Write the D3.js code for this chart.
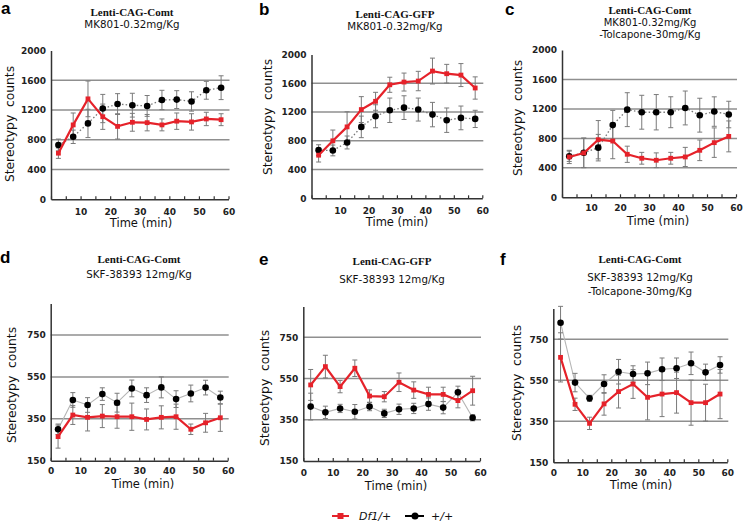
<!DOCTYPE html>
<html><head><meta charset="utf-8">
<script src="https://cdn.jsdelivr.net/npm/d3@7"></script>
<style>
html,body{margin:0;padding:0;background:#fff;}
svg{display:block;}
.tick text{font-family:"DejaVu Sans",Verdana,sans-serif;font-weight:bold;font-size:9px;fill:#222;}
</style></head>
<body>
<svg id="chart" width="744" height="522"></svg>
<script>
// ---- data ----
const time = [2.5, 7.5, 12.5, 17.5, 22.5, 27.5, 32.5, 37.5, 42.5, 47.5, 52.5, 57.5];
const seriesNames = ["Df1/+", "+/+"];

const aDf1 = [620, 1000, 1350, 1110, 980, 1035, 1030, 1000, 1050, 1040, 1080, 1070];
const aDf1Err = [70, 160, 240, 170, 170, 120, 110, 80, 110, 110, 90, 80];
const aWT = [730, 840, 1020, 1220, 1280, 1265, 1255, 1335, 1340, 1315, 1465, 1500];
const aWTErr = [80, 90, 190, 190, 140, 160, 140, 130, 120, 130, 120, 160];

const bDf1 = [600, 800, 994, 1235, 1350, 1580, 1618, 1632, 1771, 1734, 1715, 1535];
const bDf1Err = [95, 150, 210, 180, 125, 105, 125, 135, 180, 130, 160, 155];
const bWT = [670, 666, 777, 994, 1142, 1225, 1262, 1235, 1165, 1087, 1119, 1105];
const bWTErr = [75, 75, 90, 150, 160, 170, 165, 160, 170, 170, 165, 120];

const cDf1 = [548, 602, 782, 764, 584, 530, 503, 530, 548, 638, 742, 827];
const cDf1Err = [90, 200, 260, 240, 110, 80, 100, 80, 130, 140, 200, 210];
const cWT = [557, 605, 674, 980, 1190, 1155, 1155, 1155, 1213, 1115, 1164, 1124];
const cWTErr = [70, 200, 180, 200, 230, 230, 240, 210, 230, 230, 200, 180];

const dDf1 = [265, 368, 357, 363, 360, 360, 347, 357, 360, 300, 331, 355];
const dDf1Err = [55, 45, 65, 55, 55, 65, 50, 55, 60, 25, 45, 65];
const dWT = [300, 440, 416, 468, 427, 495, 463, 500, 444, 471, 499, 452];
const dWTErr = [25, 35, 35, 30, 45, 40, 35, 50, 40, 40, 35, 30];

const eDf1 = [519, 608, 511, 600, 465, 462, 532, 494, 473, 473, 443, 491];
const eDf1Err = [75, 55, 30, 40, 30, 25, 45, 40, 35, 35, 35, 70];
const eWT = [414, 386, 405, 389, 414, 381, 401, 405, 426, 409, 483, 360];
const eWTErr = [65, 30, 20, 35, 20, 20, 25, 25, 30, 30, 30, 15];

const fDf1 = [662, 433, 340, 435, 495, 532, 467, 483, 490, 441, 441, 483];
const fDf1Err = [120, 30, 30, 55, 80, 70, 110, 110, 100, 110, 90, 120];
const fWT = [831, 539, 462, 532, 592, 581, 584, 604, 609, 633, 589, 625];
const fWTErr = [80, 45, 15, 45, 60, 40, 55, 55, 50, 55, 40, 40];

const yTicksMK = [0, 400, 800, 1200, 1600, 2000];
const gridMK = [400, 800, 1200, 1600];
const yTicksSKF = [150, 350, 550, 750];
const gridSKF = [350, 550, 750];
const xTickMarks = [0, 5, 10, 15, 20, 25, 30, 35, 40, 45, 50, 55, 60];
const xLabelsTop = [10, 20, 30, 40, 50, 60];
const xLabelsBottom = [0, 10, 20, 30, 40, 50, 60];

const titlesA = ["Lenti-CAG-Comt", "MK801-0.32mg/Kg"];
const titlesB = ["Lenti-CAG-GFP", "MK801-0.32mg/Kg"];
const titlesC = ["Lenti-CAG-Comt", "MK801-0.32mg/Kg", "-Tolcapone-30mg/Kg"];
const titlesD = ["Lenti-CAG-Comt", "SKF-38393 12mg/Kg"];
const titlesE = ["Lenti-CAG-GFP", "SKF-38393 12mg/Kg"];
const titlesF = ["Lenti-CAG-Comt", "SKF-38393 12mg/Kg", "-Tolcapone-30mg/Kg"];
const yTitle = "Stereotypy\u00A0 counts";
const xTitle = "Time (min)";

// ---- layout ----
const RED = "#e5222a";
const panels = [
  {letter:"a", df1:aDf1, df1e:aDf1Err, wt:aWT, wte:aWTErr, titles:titlesA, yDomain:[0,2000], yTicks:yTicksMK, grid:gridMK, xLabels:xLabelsTop, dotted:true,
   x0:51, x1:228.5, yB:199.3, yT:50.5, tx:132, tb:[15.5,27.5], ts:10.3, lx:1, ly:14, ytx:10, yty:124, xtx:141, xtb:227, xlb:212},
  {letter:"b", df1:bDf1, df1e:bDf1Err, wt:bWT, wte:bWTErr, titles:titlesB, yDomain:[0,2000], yTicks:yTicksMK, grid:gridMK, xLabels:xLabelsTop, dotted:true,
   x0:311.5, x1:482.3, yB:198.3, yT:54.6, tx:395, tb:[17.5,29.5], ts:10.3, lx:259, ly:15, ytx:268, yty:117, xtx:397, xtb:226, xlb:211},
  {letter:"c", df1:cDf1, df1e:cDf1Err, wt:cWT, wte:cWTErr, titles:titlesC, yDomain:[0,2000], yTicks:yTicksMK, grid:gridMK, xLabels:xLabelsTop, dotted:true,
   x0:562, x1:736, yB:197.3, yT:50, tx:650, tb:[14,26,37.8], ts:10, lx:505, ly:15, ytx:518, yty:118, xtx:658, xtb:225, xlb:208},
  {letter:"d", df1:dDf1, df1e:dDf1Err, wt:dWT, wte:dWTErr, titles:titlesD, yDomain:[150,900], yTicks:yTicksSKF, grid:gridSKF, xLabels:xLabelsBottom, dotted:false,
   x0:50.7, x1:227.7, yB:460.7, yT:303.6, tx:139, tb:[263,278], ts:10.3, lx:0, ly:262.5, ytx:11.7, yty:385, xtx:143, xtb:488, xlb:471.5},
  {letter:"e", df1:eDf1, df1e:eDf1Err, wt:eWT, wte:eWTErr, titles:titlesE, yDomain:[150,900], yTicks:yTicksSKF, grid:gridSKF, xLabels:xLabelsBottom, dotted:false,
   x0:303.3, x1:480, yB:461, yT:306.4, tx:392, tb:[264.5,282.5], ts:10.3, lx:259, ly:264.5, ytx:265, yty:388, xtx:396, xtb:489.5, xlb:473},
  {letter:"f", df1:fDf1, df1e:fDf1Err, wt:fWT, wte:fWTErr, titles:titlesF, yDomain:[150,900], yTicks:yTicksSKF, grid:gridSKF, xLabels:xLabelsBottom, dotted:false,
   x0:553.3, x1:727.3, yB:462.3, yT:308.6, tx:640, tb:[263,281,294.5], ts:10.3, lx:500, ly:265, ytx:516.7, yty:383, xtx:641, xtb:489, xlb:473}
];

const svg = d3.select("#chart");

panels.forEach(p => {
  const g = svg.append("g");
  const x = d3.scaleLinear().domain([0, 60]).range([p.x0, p.x1]);
  const y = d3.scaleLinear().domain(p.yDomain).range([p.yB, p.yT]);

  // gridlines
  g.selectAll(".grid").data(p.grid).join("line")
    .attr("x1", x(0)).attr("x2", x(60) + 1)
    .attr("y1", d => y(d)).attr("y2", d => y(d))
    .attr("stroke", "#8f8f8f").attr("stroke-width", 1.5);

  // y axis
  const ya = g.append("g").attr("transform", `translate(${x(0)},0)`)
    .call(d3.axisLeft(y).tickValues(p.yTicks).tickSize(0).tickPadding(5).tickFormat(d3.format("d")));
  ya.select(".domain").attr("stroke", "#333").attr("stroke-width", 1.5);

  // x axis
  const xa = g.append("g").attr("transform", `translate(0,${y(p.yDomain[0])})`)
    .call(d3.axisBottom(x).tickValues(xTickMarks).tickSizeInner(-3).tickSizeOuter(0)
      .tickPadding(p.xlb - p.yB - 6.4 + 3)
      .tickFormat(d => p.xLabels.includes(d) ? d : ""));
  xa.select(".domain").attr("stroke", "#333").attr("stroke-width", 1.5);
  xa.selectAll(".tick line").attr("stroke", "#333").attr("stroke-width", 1.2);

  // connecting line for +/+
  const line = d3.line().x((d, i) => x(time[i])).y(d => y(d));
  g.append("path").datum(p.wt).attr("d", line).attr("fill", "none")
    .attr("stroke", p.dotted ? "#777" : "#b5b5b5").attr("stroke-width", p.dotted ? 1.3 : 1.1)
    .attr("stroke-dasharray", p.dotted ? "1.5,2.2" : null);

  // error bars
  const drawErr = (vals, errs) => {
    const eg = g.append("g").attr("stroke", "#7a7a7a").attr("stroke-width", 1);
    vals.forEach((v, i) => {
      const cx = x(time[i]);
      const top = y(v + errs[i]), bot = y(v - errs[i]);
      eg.append("line").attr("x1", cx).attr("x2", cx).attr("y1", top).attr("y2", bot);
      eg.append("line").attr("x1", cx - 2.5).attr("x2", cx + 2.5).attr("y1", top).attr("y2", top);
      eg.append("line").attr("x1", cx - 2.5).attr("x2", cx + 2.5).attr("y1", bot).attr("y2", bot);
    });
  };
  drawErr(p.wt, p.wte);
  drawErr(p.df1, p.df1e);

  // +/+ markers
  g.selectAll(".wt").data(p.wt).join("circle")
    .attr("cx", (d, i) => x(time[i])).attr("cy", d => y(d)).attr("r", 3.3).attr("fill", "#000");

  // Df1/+ line and markers
  g.append("path").datum(p.df1).attr("d", line).attr("fill", "none")
    .attr("stroke", RED).attr("stroke-width", 2.2);
  g.selectAll(".df").data(p.df1).join("rect")
    .attr("x", (d, i) => x(time[i]) - 2.4).attr("y", d => y(d) - 2.4)
    .attr("width", 4.8).attr("height", 4.8).attr("fill", RED);

  // titles
  p.titles.forEach((t, i) => {
    g.append("text").attr("x", p.tx).attr("y", p.tb[i]).attr("text-anchor", "middle")
      .attr("font-family", i === 0 ? "'Liberation Serif','Times New Roman',serif" : "'DejaVu Sans',Verdana,sans-serif")
      .attr("font-weight", i === 0 ? "bold" : "normal")
      .attr("font-size", i === 0 ? 11 : p.ts).attr("fill", "#111").text(t);
  });
  // panel letter
  g.append("text").attr("x", p.lx).attr("y", p.ly)
    .attr("font-family", "'Liberation Sans',Arial,sans-serif").attr("font-weight", "bold")
    .attr("font-size", 17).attr("fill", "#000").text(p.letter);
  // axis titles
  g.append("text").attr("transform", `translate(${p.ytx},${p.yty}) rotate(-90)`)
    .attr("text-anchor", "middle").attr("dy", "0.35em")
    .attr("font-family", "'DejaVu Sans',Verdana,sans-serif").attr("font-size", 12.3).attr("fill", "#111")
    .text(yTitle);
  g.append("text").attr("x", p.xtx).attr("y", p.xtb).attr("text-anchor", "middle")
    .attr("font-family", "'DejaVu Sans',Verdana,sans-serif").attr("font-size", 11.5).attr("fill", "#111")
    .text(xTitle);
});

// legend
const lg = svg.append("g");
lg.append("line").attr("x1", 332).attr("x2", 349).attr("y1", 516).attr("y2", 516).attr("stroke", RED).attr("stroke-width", 2);
lg.append("rect").attr("x", 337.5).attr("y", 513).attr("width", 6).attr("height", 6).attr("fill", RED);
lg.append("text").attr("x", 359).attr("y", 520).attr("font-family", "'DejaVu Sans',Verdana,sans-serif")
  .attr("font-style", "italic").attr("font-size", 11).attr("fill", "#111").text(seriesNames[0]);
lg.append("line").attr("x1", 405).attr("x2", 424).attr("y1", 516).attr("y2", 516).attr("stroke", "#000").attr("stroke-width", 2);
lg.append("circle").attr("cx", 415).attr("cy", 516).attr("r", 3.5).attr("fill", "#000");
lg.append("text").attr("x", 431).attr("y", 520).attr("font-family", "'DejaVu Sans',Verdana,sans-serif")
  .attr("font-style", "italic").attr("font-size", 11).attr("fill", "#111").text(seriesNames[1]);
</script>
</body></html>
